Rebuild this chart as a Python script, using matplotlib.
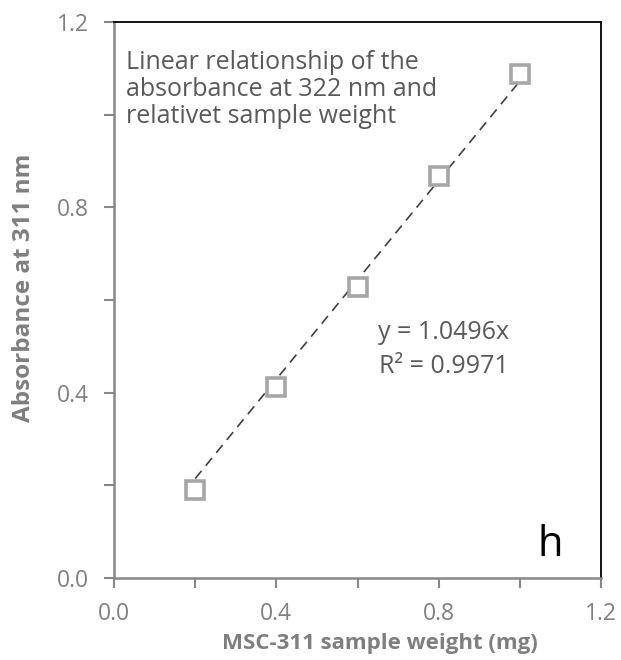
import numpy as np
import matplotlib
matplotlib.use("Agg")
import matplotlib.pyplot as plt
from matplotlib.ticker import MultipleLocator

# values
weight_mg = [0.2, 0.4, 0.6, 0.8, 1.0]
absorbance = [0.190, 0.412, 0.627, 0.867, 1.087]
x_ticks = [0.0, 0.4, 0.8, 1.2]
y_ticks = [0.0, 0.4, 0.8, 1.2]
note_lines = ["Linear relationship of the", "absorbance at 322 nm and",
              "relativet sample weight"]
eq_lines = ["y = 1.0496x", "R² = 0.9971"]

plt.rcParams['font.family'] = ['Open Sans', 'DejaVu Sans']

fig = plt.figure(figsize=(6.21, 6.6), dpi=100)
ax = fig.add_axes([114/621, 1 - 578/660, (601 - 114)/621, (578 - 22)/660])

# trendline through origin (as drawn)
xa = np.array(weight_mg)
ya = np.array(absorbance)
slope = np.sum(xa * ya) / np.sum(xa * xa)
ax.plot([xa[0], xa[-1]], [slope * xa[0], slope * xa[-1]], color="#404040",
        lw=1.2, dashes=(6, 4), zorder=2)
ax.plot(weight_mg, absorbance, ls="none", marker="s", ms=12.5, mfc="white",
        mec="#a6a6a6", mew=2.6, zorder=3)

ax.set_xlim(0, 1.2)
ax.set_ylim(0, 1.2)
ax.set_xticks(x_ticks)
ax.set_yticks(y_ticks)
ax.set_xticklabels([f"{v:.1f}" for v in x_ticks])
ax.set_yticklabels([f"{v:.1f}" for v in y_ticks])
ax.xaxis.set_minor_locator(MultipleLocator(0.2))
ax.yaxis.set_minor_locator(MultipleLocator(0.2))

grey = "#878787"
for s in ("left", "bottom"):
    ax.spines[s].set_color(grey)
    ax.spines[s].set_linewidth(1.8)
for s in ("top", "right"):
    ax.spines[s].set_color("black")
    ax.spines[s].set_linewidth(1.3)

ax.tick_params(which="both", direction="out", length=7, width=1.5, color=grey)
ax.tick_params(axis="y", which="major", pad=11, labelsize=16.5, labelcolor="#808080")
ax.tick_params(axis="x", which="major", pad=10, labelsize=16.5, labelcolor="#808080")

ax.set_xlabel("MSC-311 sample weight (mg)", fontsize=16, fontweight="bold",
              color="#7f7f7f")
ax.set_ylabel("Absorbance at 311 nm", fontsize=17.5, fontweight="bold",
              color="#7f7f7f")
ax.xaxis.set_label_coords((380 - 114) / 487, -(649 - 578) / 556)
ax.xaxis.label.set_va("baseline")
ax.yaxis.set_label_coords(-(114 - 24) / 487, (578 - 288) / 556)
ax.yaxis.label.set_va("center")

for i, line in enumerate(note_lines):
    ax.text(0.025, (578 - 69 - 27 * i) / 556, line, transform=ax.transAxes,
            ha="left", va="baseline", fontsize=18, color="#595959")
for line, base in zip(eq_lines, [339, 373]):
    ax.text((444 - 114) / 487, (578 - base) / 556, line, transform=ax.transAxes,
            ha="center", va="baseline", fontsize=18, color="#595959")
ax.text(0.895, 0.04, "h", transform=ax.transAxes, ha="center", va="baseline",
        fontsize=30, color="black")

fig.savefig("out.png", dpi=100)
